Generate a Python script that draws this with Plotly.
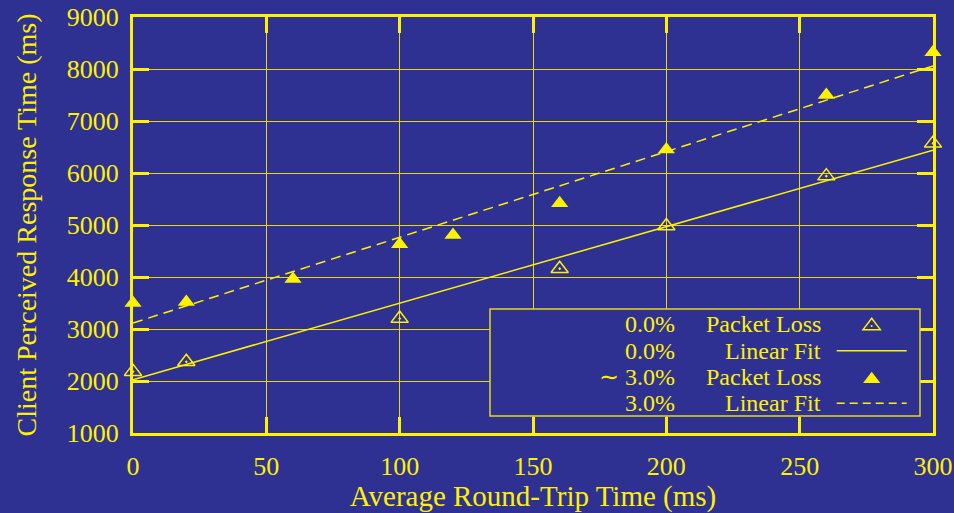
import plotly.graph_objects as go

# ---- data ----
rtt_0 = [0, 20, 100, 160, 200, 260, 300]
resp_0 = [2180, 2370, 3200, 4160, 4980, 5940, 6570]

rtt_3 = [0, 20, 60, 100, 120, 160, 200, 260, 300]
resp_3 = [3500, 3520, 3960, 4630, 4810, 5420, 6450, 7500, 8320]

fit_x = [0, 300]
fit_0 = [2025, 6440]
fit_3 = [3115, 8060]

x_ticks = [0, 50, 100, 150, 200, 250, 300]
y_ticks = [1000, 2000, 3000, 4000, 5000, 6000, 7000, 8000, 9000]

legend_left = ["0.0%", "0.0%", "\u223c 3.0%", "3.0%"]
legend_right = ["Packet Loss", "Linear Fit", "Packet Loss", "Linear Fit"]

# ---- styling ----
BG = "#2E3192"
YEL = "#FFF200"
GRID = "#E6D814"
FONT = "Liberation Serif"
W, H = 954, 513
ML, MR, MT, MB = 133, 21, 17, 80
PW, PH = W - ML - MR, H - MT - MB


def px2paper(px, py):
    return (px - ML) / PW, (H - MB - py) / PH


fig = go.Figure()

fig.add_trace(go.Scatter(x=fit_x, y=fit_0, mode="lines",
                         line=dict(color=YEL, width=1.5), showlegend=False))
fig.add_trace(go.Scatter(x=fit_x, y=fit_3, mode="lines",
                         line=dict(color=YEL, width=1.5, dash="10px,6px"), showlegend=False))
fig.add_trace(go.Scatter(x=rtt_0, y=resp_0, mode="markers",
                         marker=dict(symbol="triangle-up-open-dot", size=15, color=YEL,
                                     line=dict(color=YEL, width=1.5)),
                         showlegend=False, cliponaxis=False))
fig.add_trace(go.Scatter(x=rtt_3, y=resp_3, mode="markers",
                         marker=dict(symbol="triangle-up", size=15, color=YEL,
                                     line=dict(width=0)),
                         showlegend=False, cliponaxis=False))

axis_common = dict(
    showline=True, linecolor=YEL, linewidth=3, mirror="ticks",
    ticks="inside", ticklen=16, tickwidth=3, tickcolor=YEL,
    showgrid=True, gridcolor=GRID, gridwidth=1.4, zeroline=False,
    tickfont=dict(family=FONT, size=26, color=YEL), automargin=False,
)

fig.update_xaxes(range=[0, 300], tickvals=x_ticks, ticktext=[str(v) for v in x_ticks],
                 ticklabelstandoff=8,
                 title=dict(text="Average Round-Trip Time (ms)",
                            font=dict(family=FONT, size=29, color=YEL), standoff=12),
                 **axis_common)
fig.update_yaxes(range=[1000, 9000], tickvals=y_ticks, ticktext=[str(v) for v in y_ticks],
                 ticklabelstandoff=6,
                 title=dict(text="Client Perceived Response Time (ms)",
                            font=dict(family=FONT, size=28, color=YEL), standoff=22),
                 **axis_common)

# ---- custom legend (text right-aligned, symbol on the right) ----
shapes = []
annotations = []
bx0, by0 = px2paper(490, 416)
bx1, by1 = px2paper(920, 309)
shapes.append(dict(type="rect", xref="paper", yref="paper", x0=bx0, y0=by0, x1=bx1, y1=by1,
                   fillcolor=BG, line=dict(color=GRID, width=1.5), layer="above"))

row_y = [324, 350.7, 377.3, 403.3]
for i in range(4):
    xl, yy = px2paper(677, row_y[i])
    xr, _ = px2paper(823, row_y[i])
    annotations.append(dict(xref="paper", yref="paper", x=xl, y=yy, text=legend_left[i],
                            showarrow=False, xanchor="right", yanchor="middle",
                            font=dict(family=FONT, size=24, color=YEL)))
    annotations.append(dict(xref="paper", yref="paper", x=xr, y=yy, text=legend_right[i],
                            showarrow=False, xanchor="right", yanchor="middle",
                            font=dict(family=FONT, size=24, color=YEL)))


def tri_path(cx, cy, w=17.3, h=11.3):
    pts = [(cx - w / 2, cy + h / 2), (cx + w / 2, cy + h / 2), (cx, cy - h / 2)]
    p = [px2paper(a, b) for a, b in pts]
    return "M{},{} L{},{} L{},{} Z".format(p[0][0], p[0][1], p[1][0], p[1][1], p[2][0], p[2][1])


shapes.append(dict(type="path", xref="paper", yref="paper", path=tri_path(871.7, row_y[0]),
                   line=dict(color=YEL, width=1.5), fillcolor="rgba(0,0,0,0)", layer="above"))
d0 = px2paper(871.7, row_y[0] + 2)
shapes.append(dict(type="circle", xref="paper", yref="paper",
                   x0=d0[0] - 1 / PW, x1=d0[0] + 1 / PW, y0=d0[1] - 1 / PH, y1=d0[1] + 1 / PH,
                   fillcolor=YEL, line=dict(width=0), layer="above"))
shapes.append(dict(type="path", xref="paper", yref="paper", path=tri_path(871.7, row_y[2]),
                   line=dict(color=YEL, width=0), fillcolor=YEL, layer="above"))
for i, dash in [(1, "solid"), (3, "8px,5px")]:
    a = px2paper(836.7, row_y[i])
    b = px2paper(906.7, row_y[i])
    shapes.append(dict(type="line", xref="paper", yref="paper", x0=a[0], y0=a[1], x1=b[0], y1=b[1],
                       line=dict(color=YEL, width=1.5, dash=dash), layer="above"))

fig.update_layout(
    width=W, height=H,
    margin=dict(l=ML, r=MR, t=MT, b=MB),
    paper_bgcolor=BG, plot_bgcolor=BG,
    showlegend=False,
    shapes=shapes, annotations=annotations,
    font=dict(family=FONT, color=YEL),
)

fig.write_html("out.html")
